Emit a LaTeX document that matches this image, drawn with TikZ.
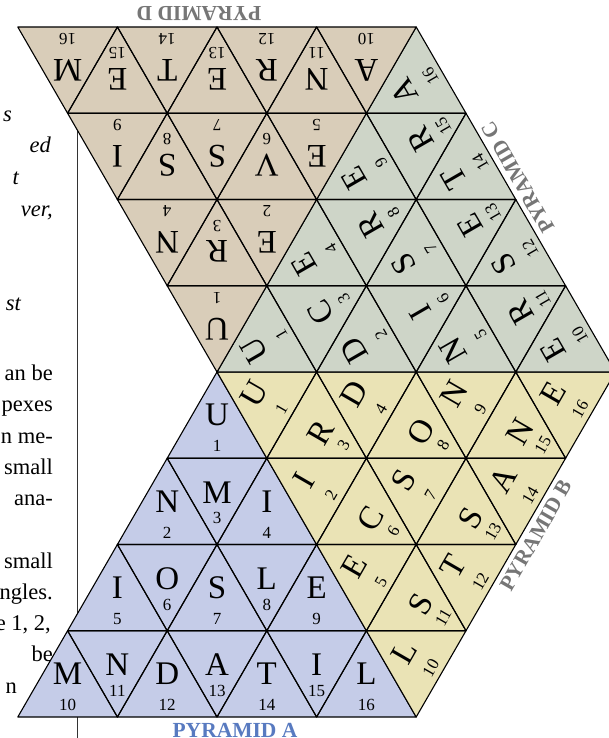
\documentclass[tikz,border=0pt]{standalone}
\usepackage{fontspec}
\setmainfont{Liberation Serif}
\definecolor{fillA}{RGB}{197,204,232}
\definecolor{fillB}{RGB}{234,227,181}
\definecolor{fillC}{RGB}{206,213,200}
\definecolor{fillD}{RGB}{217,205,185}
\definecolor{labA}{RGB}{88,122,192}
\definecolor{labG}{RGB}{118,118,118}
\def\S{99.6}
\def\H{86.25}
\tikzset{
  tri/.style={draw=black,line width=1.1pt,line join=round},
  letter/.style={inner sep=0pt,transform shape,font=\fontsize{33}{33}\selectfont},
  num/.style={inner sep=0pt,transform shape,font=\fontsize{17}{17}\selectfont},
  plabel/.style={inner sep=0pt,transform shape,font=\bfseries\fontsize{21.5}{21.5}\selectfont},
  frag/.style={inner sep=0pt,anchor=base east,font=\fontsize{22.5}{22.5}\selectfont},
  ifrag/.style={frag,font=\itshape\fontsize{22.5}{22.5}\selectfont},
}
\newcommand\pyramid[5]{%
\begin{scope}[shift={(217,-372)},rotate=#1]
  \fill[#2] (0,0) -- (-2*\S,-4*\H) -- (2*\S,-4*\H) -- cycle;
  \foreach \L [count=\n] in {#3} {
    \pgfmathtruncatemacro\r{ceil(sqrt(\n-0.5))}
    \pgfmathtruncatemacro\m{\n-(\r-1)*(\r-1)-1}
    \pgfmathsetmacro\cx{(\m-\r+1)/2*\S}
    \pgfmathsetmacro\yt{-(\r-1)*\H}
    \pgfmathsetmacro\yb{-\r*\H}
    \ifodd\m
      \draw[tri] (\cx-\S/2,\yt) -- (\cx+\S/2,\yt) -- (\cx,\yb) -- cycle;
      \node[letter] (#4-l\n) at (\cx,\yt-34) {\L};
      \node[num] (#4-n\n) at (\cx,\yt-60) {\n};
    \else
      \draw[tri] (\cx,\yt) -- (\cx-\S/2,\yb) -- (\cx+\S/2,\yb) -- cycle;
      \node[letter] (#4-l\n) at (\cx,\yb+43) {\L};
      \node[num] (#4-n\n) at (\cx,\yb+12) {\n};
    \fi
  }
  \node[plabel,text=#5] (#4-label) at (18,-4*\H-13) {PYRAMID #4};
\end{scope}}
\begin{document}
\begin{tikzpicture}[x=1pt,y=1pt]
\useasboundingbox (0,0) rectangle (608,-738);
% page rule behind the net
\draw[line width=0.9pt,black!80] (77,-60) -- (77,-738);
% fragments of the page text
\node[ifrag] (t1) at (12,-122) {s};
\node[ifrag] (t2) at (51,-153) {ed};
\node[ifrag] (t3) at (19,-185) {t};
\node[ifrag] (t4) at (53,-216) {ver,};
\node[ifrag] (t5) at (21,-310) {st};
\node[frag] (t6) at (53,-380) {an be};
\node[frag] (t7) at (53,-411) {pexes};
\node[frag] (t8) at (53,-443) {n me-};
\node[frag] (t9) at (53,-474) {small};
\node[frag] (t10) at (53,-505) {ana-};
\node[frag] (t11) at (53,-568) {small};
\node[frag] (t12) at (53,-599) {ngles.};
\node[frag] (t13) at (51,-630) {e 1, 2,};
\node[frag] (t14) at (53,-661) {be};
\node[frag] (t15) at (17,-693) {n};
% the four pyramids
\pyramid{0}{fillA}{U,N,M,I,I,O,S,L,E,M,N,D,A,T,I,L}{A}{labA}
\pyramid{60}{fillB}{U,I,R,D,E,C,S,O,N,L,S,T,S,A,N,E}{B}{labG}
\pyramid{120}{fillC}{U,D,C,E,N,I,S,R,E,E,R,S,E,T,R,A}{C}{labG}
\pyramid{180}{fillD}{U,E,R,N,E,V,S,S,I,A,N,R,E,T,E,M}{D}{labG}
\end{tikzpicture}
\end{document}
